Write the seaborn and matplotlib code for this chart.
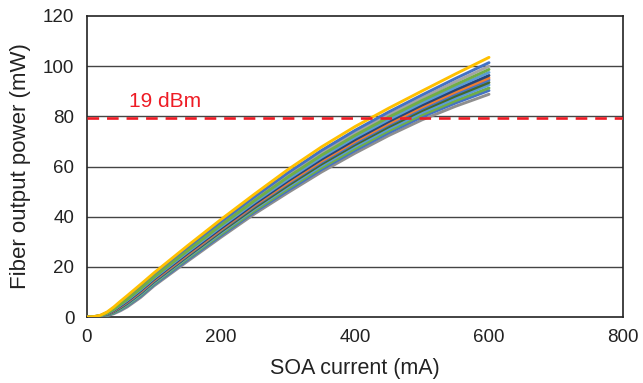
import numpy as np
import pandas as pd
import matplotlib
matplotlib.use("Agg")
import matplotlib.pyplot as plt
import seaborn as sns

# SOA drive current (mA)
current = [0, 10, 20, 30, 40, 50, 60, 80, 100, 150, 200, 250, 300, 350, 400, 450, 500, 550, 600]

# Fiber output power (mW) for each measured device
dev_gray_low = [0, 0, 0.1, 0.5, 1.3, 2.5, 4.0, 7.8, 12.4, 22.2, 31.8, 41.1, 49.6, 57.8, 65.3, 72.3, 78.6, 84.0, 88.8]
dev_blue_a   = [0, 0, 0.2, 0.65, 1.6, 2.9, 4.45, 8.3, 12.9, 22.8, 32.5, 41.9, 50.5, 58.8, 66.4, 73.4, 79.8, 85.3, 90.3]
dev_green_a  = [0, 0, 0.2, 0.75, 1.75, 3.15, 4.75, 8.7, 13.3, 23.3, 33.0, 42.4, 51.2, 59.5, 67.1, 74.2, 80.6, 86.2, 91.3]
dev_lblue_a  = [0, 0.05, 0.25, 0.9, 2.0, 3.45, 5.1, 9.1, 13.7, 23.8, 33.6, 43.1, 51.9, 60.3, 68.0, 75.0, 81.5, 87.2, 92.5]
dev_dgreen   = [0, 0.05, 0.3, 1.0, 2.15, 3.7, 5.45, 9.5, 14.1, 24.2, 34.1, 43.6, 52.5, 61.0, 68.7, 75.8, 82.3, 88.1, 93.5]
dev_blue_b   = [0, 0.05, 0.35, 1.1, 2.35, 4.0, 5.75, 9.8, 14.4, 24.6, 34.6, 44.2, 53.2, 61.7, 69.4, 76.6, 83.1, 89.0, 94.5]
dev_orange   = [0, 0.05, 0.35, 1.15, 2.5, 4.2, 6.0, 10.1, 14.7, 24.9, 34.9, 44.6, 53.6, 62.2, 70.0, 77.1, 83.7, 89.7, 95.3]
dev_dblue    = [0, 0.08, 0.4, 1.25, 2.7, 4.45, 6.3, 10.5, 15.1, 25.4, 35.4, 45.1, 54.3, 62.9, 70.7, 77.9, 84.5, 90.6, 96.3]
dev_lblue_b  = [0, 0.09, 0.45, 1.4, 2.9, 4.75, 6.65, 10.9, 15.5, 25.9, 36.0, 45.8, 55.0, 63.7, 71.6, 78.7, 85.4, 91.6, 97.5]
dev_gray_hi  = [0, 0.11, 0.55, 1.65, 3.35, 5.4, 7.4, 11.8, 16.4, 26.9, 37.2, 47.1, 56.6, 65.4, 73.4, 80.6, 87.3, 93.8, 100.0]
dev_blue_c   = [0, 0.13, 0.6, 1.8, 3.6, 5.8, 7.9, 12.3, 16.9, 27.5, 37.9, 47.9, 57.5, 66.4, 74.4, 81.7, 88.5, 95.1, 101.4]
dev_green_b  = [0, 0.1, 0.5, 1.5, 3.1, 5.05, 7.0, 11.3, 15.9, 26.4, 36.6, 46.4, 55.8, 64.5, 72.4, 79.6, 86.3, 92.6, 98.7]
dev_gold     = [0, 0.15, 0.7, 2.0, 4.0, 6.3, 8.5, 13.0, 17.6, 28.4, 38.9, 49.0, 58.8, 67.8, 75.9, 83.2, 90.1, 96.9, 103.5]

series_names = ["gray_low", "blue_a", "green_a", "lblue_a", "dgreen", "blue_b", "orange",
                "dblue", "lblue_b", "gray_hi", "blue_c", "green_b", "gold"]
series_values = [dev_gray_low, dev_blue_a, dev_green_a, dev_lblue_a, dev_dgreen, dev_blue_b, dev_orange,
                 dev_dblue, dev_lblue_b, dev_gray_hi, dev_blue_c, dev_green_b, dev_gold]
series_colors = ["#8F8F8F", "#4472C4", "#70AD47", "#5B9BD5", "#43682B", "#4472C4", "#ED7D31",
                 "#264478", "#5B9BD5", "#A5A5A5", "#4472C4", "#70AD47", "#FFC000"]

limit_dbm = 19
limit_mw = 10 ** (limit_dbm / 10)  # 19 dBm in mW

x_ticks = [0, 200, 400, 600, 800]
y_ticks = [0, 20, 40, 60, 80, 100, 120]

rows = []
for name, vals in zip(series_names, series_values):
    for c, p in zip(current, vals):
        rows.append({"current": c, "power": p, "device": name})
df = pd.DataFrame(rows)

sns.set_style("white")
plt.rcParams["font.family"] = ["Liberation Sans", "DejaVu Sans"]

fig = plt.figure(figsize=(6.43, 3.83), dpi=100)
ax = fig.add_axes([87 / 643, 1 - 317 / 383, (623 - 87) / 643, (317 - 16) / 383])

for yt in y_ticks[1:-1]:
    ax.axhline(yt, color="#444444", lw=1.0, zorder=1)

sns.lineplot(data=df, x="current", y="power", hue="device", hue_order=series_names,
             palette=series_colors, lw=2.1, legend=False, ax=ax, zorder=3)

ax.axhline(limit_mw, color="#EE1C25", lw=1.9, ls=(0, (4.4, 3.0)), zorder=5)
ax.text(62, 83.6, f"{limit_dbm} dBm", color="#EE1C25", fontsize=15, ha="left", va="baseline")

ax.set_xlim(0, 800)
ax.set_ylim(0, 120)
ax.set_xticks(x_ticks)
ax.set_yticks(y_ticks)
ax.tick_params(axis="both", length=0, pad=9, labelsize=13.5, labelcolor="#222222")
ax.set_xlabel("SOA current (mA)", fontsize=15.5, color="#222222", labelpad=8)
ax.set_ylabel("Fiber output power (mW)", fontsize=16, color="#222222", labelpad=9)
for s in ax.spines.values():
    s.set_visible(True)
    s.set_color("#222222")
    s.set_linewidth(1.2)

fig.savefig("out.png", dpi=100)
